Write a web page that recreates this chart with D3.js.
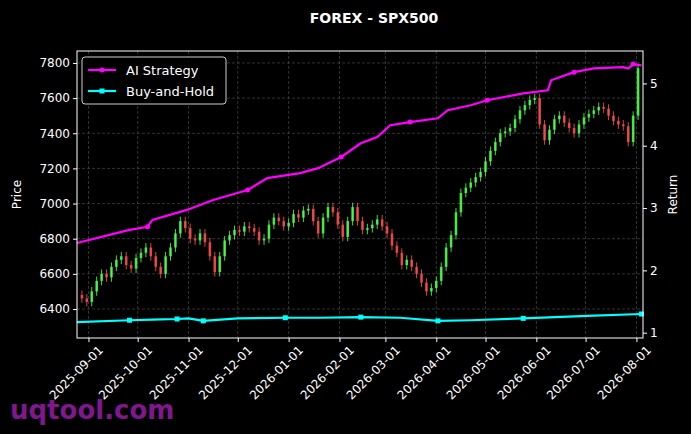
<!DOCTYPE html>
<html>
<head>
<meta charset="UTF-8" />
<script src="https://cdn.jsdelivr.net/npm/d3@7"></script>
<style>
  body { margin: 0; background: #000; }
  text { font-family: "DejaVu Sans", sans-serif; }
</style>
</head>
<body>
<div id="chart"></div>
<script>
// candles every 3 days starting 2025-08-28
const candleStart = "2025-08-28";
const closes = [6460,6440,6500,6560,6600,6580,6640,6680,6700,6650,6630,6690,6720,6750,6700,6640,6600,6700,6750,6830,
  6900,6860,6800,6790,6830,6780,6700,6610,6700,6790,6820,6850,6840,6870,6860,6840,6790,6800,6880,6920,
  6900,6870,6890,6940,6920,6960,6970,6900,6830,6920,6980,6950,6880,6810,6900,6980,6900,6850,6860,6880,
  6910,6870,6830,6760,6720,6650,6680,6640,6600,6550,6500,6520,6560,6640,6750,6820,6950,7060,7090,7120,
  7150,7180,7240,7300,7350,7400,7410,7430,7480,7530,7560,7590,7600,7450,7360,7420,7480,7500,7460,7430,
  7400,7450,7490,7510,7530,7550,7540,7500,7470,7450,7440,7350,7500,7770];
const firstOpen = 6480;

const aiDates = ["2025-08-25","2025-09-26","2025-10-07","2025-10-10","2025-10-31","2025-11-16","2025-12-07","2025-12-19",
  "2026-01-08","2026-01-19","2026-02-02","2026-02-14","2026-02-24","2026-03-04","2026-03-16","2026-04-02","2026-04-08",
  "2026-04-22","2026-05-02","2026-05-24","2026-06-08","2026-06-10","2026-06-24","2026-07-06","2026-07-24","2026-07-27",
  "2026-07-30","2026-08-04"];
const aiValues = [2.44,2.65,2.70,2.81,2.97,3.13,3.29,3.48,3.56,3.64,3.82,4.04,4.14,4.33,4.38,4.44,4.57,4.65,4.73,4.84,
  4.89,5.05,5.18,5.24,5.26,5.24,5.31,5.29];

const bhDates = ["2025-08-25","2025-09-26","2025-10-10","2025-10-25","2025-11-01","2025-11-10","2025-12-01","2025-12-30",
  "2026-01-20","2026-02-14","2026-03-10","2026-04-02","2026-04-22","2026-05-24","2026-07-02","2026-08-04"];
const bhValues = [1.17,1.20,1.21,1.22,1.23,1.19,1.23,1.24,1.24,1.25,1.24,1.19,1.20,1.23,1.27,1.30];

const W = 691, H = 434;
const m = { l: 77, r: 48, t: 51, b: 96 };
const parse = d3.timeParse("%Y-%m-%d");

const svg = d3.select("#chart").append("svg").attr("width", W).attr("height", H)
  .style("background", "#000");

const x = d3.scaleTime().domain([parse("2025-08-25"), parse("2026-08-05")]).range([m.l, W - m.r]);
const yP = d3.scaleLinear().domain([6235, 7868]).range([H - m.b, m.t]);
const yR = d3.scaleLinear().domain([0.915, 5.52]).range([H - m.b, m.t]);

const months = d3.timeMonth.range(parse("2025-09-01"), parse("2026-08-02"));
const grid = svg.append("g").attr("stroke", "#555").attr("stroke-dasharray", "3,2").attr("stroke-width", 0.6);
months.forEach(d => grid.append("line").attr("x1", x(d)).attr("x2", x(d)).attr("y1", m.t).attr("y2", H - m.b));
d3.range(6400, 7801, 200).forEach(v => grid.append("line").attr("x1", m.l).attr("x2", W - m.r).attr("y1", yP(v)).attr("y2", yP(v)));

// candles
const start = parse(candleStart);
const candles = closes.map((c, i) => {
  const o = i === 0 ? firstOpen : closes[i - 1];
  return { date: d3.timeDay.offset(start, 3 * i), o, c, hi: Math.max(o, c) + 25, lo: Math.min(o, c) - 25 };
});
const cg = svg.append("g");
candles.forEach(d => {
  const col = d.c >= d.o ? "#4dff4d" : "#ff4d4d";
  const cx = x(d.date);
  cg.append("line").attr("x1", cx).attr("x2", cx).attr("y1", yP(d.hi)).attr("y2", yP(d.lo))
    .attr("stroke", col).attr("stroke-width", 1).attr("opacity", 0.85);
  cg.append("rect").attr("x", cx - 1.3).attr("width", 2.6)
    .attr("y", yP(Math.max(d.o, d.c))).attr("height", Math.max(1, Math.abs(yP(d.o) - yP(d.c))))
    .attr("fill", col).attr("opacity", 0.85);
});

// return lines
const line = d3.line().x(d => x(d[0])).y(d => yR(d[1]));
const ai = aiDates.map((d, i) => [parse(d), aiValues[i]]);
const bh = bhDates.map((d, i) => [parse(d), bhValues[i]]);
svg.append("path").datum(ai).attr("d", line).attr("fill", "none").attr("stroke", "#ff00ff").attr("stroke-width", 2.2);
svg.append("path").datum(bh).attr("d", line).attr("fill", "none").attr("stroke", "#00ffff").attr("stroke-width", 2.2);
ai.filter((d, i) => i % 4 === 2).forEach(d =>
  svg.append("circle").attr("cx", x(d[0])).attr("cy", yR(d[1])).attr("r", 2.5).attr("fill", "#ff00ff"));
bh.filter((d, i) => i % 2 === 1).forEach(d =>
  svg.append("rect").attr("x", x(d[0]) - 2.5).attr("y", yR(d[1]) - 2.5).attr("width", 5).attr("height", 5).attr("fill", "#00ffff"));

// frame
svg.append("rect").attr("x", m.l).attr("y", m.t).attr("width", W - m.l - m.r).attr("height", H - m.t - m.b)
  .attr("fill", "none").attr("stroke", "#fff").attr("stroke-width", 1);

// axes
const styleAxis = g => { g.select(".domain").remove(); g.selectAll("line").attr("stroke", "#fff");
  g.selectAll("text").attr("fill", "#fff").style("font-size", "12px"); };
svg.append("g").attr("transform", `translate(${m.l},0)`)
  .call(d3.axisLeft(yP).tickValues(d3.range(6400, 7801, 200)).tickSize(4).tickFormat(d3.format("d"))).call(styleAxis);
svg.append("g").attr("transform", `translate(${W - m.r},0)`)
  .call(d3.axisRight(yR).tickValues([1, 2, 3, 4, 5]).tickSize(4).tickFormat(d3.format("d"))).call(styleAxis);
const xa = svg.append("g").attr("transform", `translate(0,${H - m.b})`)
  .call(d3.axisBottom(x).tickValues(months).tickSize(4).tickFormat(d3.timeFormat("%Y-%m-%d"))).call(styleAxis);
xa.selectAll("text").attr("text-anchor", "end").attr("transform", "translate(4,2) rotate(-45)")
  .attr("dx", 0).attr("dy", "0.7em");

// labels
svg.append("text").attr("x", (m.l + W - m.r) / 2 + 14).attr("y", 23).attr("text-anchor", "middle")
  .attr("fill", "#fff").style("font-size", "14px").style("font-weight", "bold").text("FOREX - SPX500");
svg.append("text").attr("transform", `translate(21,${(m.t + H - m.b) / 2}) rotate(-90)`).attr("text-anchor", "middle")
  .attr("fill", "#fff").style("font-size", "12px").text("Price");
svg.append("text").attr("transform", `translate(677,${(m.t + H - m.b) / 2}) rotate(-90)`).attr("text-anchor", "middle")
  .attr("fill", "#fff").style("font-size", "12px").text("Return");

// legend
const lg = svg.append("g").attr("transform", "translate(82,57)");
lg.append("rect").attr("width", 144).attr("height", 47).attr("rx", 3).attr("fill", "#000")
  .attr("stroke", "#ccc").attr("stroke-width", 1);
[["AI Strategy", "#ff00ff", "c"], ["Buy-and-Hold", "#00ffff", "s"]].forEach((e, i) => {
  const yy = 13 + i * 21;
  lg.append("line").attr("x1", 6).attr("x2", 34).attr("y1", yy).attr("y2", yy).attr("stroke", e[1]).attr("stroke-width", 2.2);
  if (e[2] === "c") lg.append("circle").attr("cx", 20).attr("cy", yy).attr("r", 2.5).attr("fill", e[1]);
  else lg.append("rect").attr("x", 17.5).attr("y", yy - 2.5).attr("width", 5).attr("height", 5).attr("fill", e[1]);
  lg.append("text").attr("x", 44).attr("y", yy + 4.5).attr("fill", "#fff").style("font-size", "13px").text(e[0]);
});

// watermark
svg.append("text").attr("x", 10).attr("y", 419).attr("fill", "#8e1a9e").attr("opacity", 0.9)
  .style("font-size", "26px").style("font-weight", "bold").text("uqtool.com");
</script>
</body>
</html>
